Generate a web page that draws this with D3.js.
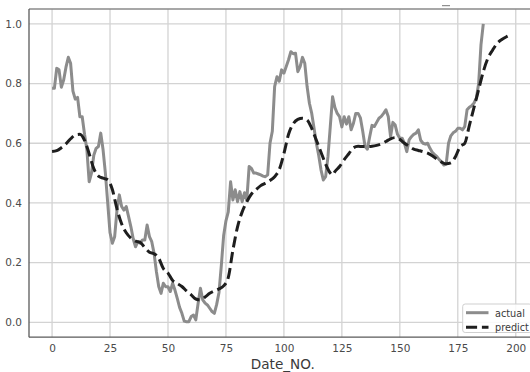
<!DOCTYPE html>
<html>
<head>
<meta charset="utf-8">
<script src="https://cdn.jsdelivr.net/npm/d3@7"></script>
<style>
  html, body { margin: 0; padding: 0; background: #fff; }
  svg { display: block; }
  text { font-family: "DejaVu Sans", sans-serif; }
</style>
</head>
<body>
<svg id="chart" width="530" height="372"></svg>
<script>
// Observed series (index -> normalised value)
const actualNo = [
  0,1,2,3,4,5,6,7,8,9,10,11,12,13,14,15,16,17,18,19,20,21,22,23,24,25,26,27,28,29,
  30,31,32,33,34,35,36,37,38,39,40,41,42,43,44,45,46,47,48,49,50,51,52,53,54,55,56,57,58,59,
  60,61,62,63,64,65,66,67,68,69,70,71,72,73,74,75,76,77,78,79,80,81,82,83,84,85,86,87,88,89,
  90,91,92,93,94,95,96,97,98,99,100,101,102,103,104,105,106,107,108,109,110,111,112,113,114,115,116,117,118,119,
  120,121,122,123,124,125,126,127,128,129,130,131,132,133,134,135,136,137,138,139,140,141,142,143,144,145,146,147,148,149,
  150,151,152,153,154,155,156,157,158,159,160,161,162,163,164,165,166,167,168,169,170,171,172,173,174,175,176,177,178,179,
  180,181,182,183,184,185,186
];
const actual = [
  0.784,0.784,0.851,0.846,0.788,0.812,0.855,0.888,0.868,0.775,0.748,0.754,0.689,0.689,0.630,0.580,0.471,0.500,0.560,0.583,
  0.589,0.634,0.578,0.500,0.400,0.300,0.265,0.287,0.376,0.427,0.388,0.376,0.388,0.354,0.320,0.280,0.253,0.270,0.265,0.276,
  0.276,0.326,0.287,0.270,0.231,0.170,0.120,0.097,0.131,0.119,0.119,0.103,0.131,0.108,0.080,0.050,0.030,0.004,0.002,0.002,
  0.019,0.024,0.008,0.064,0.114,0.075,0.064,0.058,0.047,0.036,0.030,0.060,0.100,0.190,0.290,0.340,0.370,0.471,0.410,0.444,
  0.404,0.438,0.404,0.434,0.410,0.522,0.516,0.500,0.500,0.497,0.494,0.490,0.488,0.494,0.600,0.640,0.790,0.823,0.808,0.846,
  0.835,0.857,0.880,0.907,0.900,0.902,0.840,0.857,0.888,0.868,0.790,0.734,0.700,0.650,0.600,0.560,0.511,0.477,0.488,0.555,
  0.656,0.756,0.720,0.700,0.689,0.655,0.689,0.664,0.689,0.645,0.667,0.700,0.700,0.685,0.640,0.589,0.580,0.622,0.660,0.656,
  0.670,0.684,0.690,0.700,0.712,0.690,0.622,0.670,0.661,0.630,0.617,0.617,0.600,0.572,0.611,0.622,0.630,0.634,0.645,0.610,
  0.600,0.597,0.600,0.583,0.570,0.562,0.555,0.545,0.538,0.527,0.530,0.600,0.625,0.635,0.640,0.650,0.650,0.645,0.656,0.712,
  0.721,0.726,0.735,0.751,0.800,0.930,1.000
];

// Model output
const predictNo = [
  0,2,4,6,8,10,12,14,16,18,20,22,24,26,28,30,32,34,36,38,40,42,44,46,48,50,52,54,56,58,
  60,62,64,66,68,70,72,74,76,78,80,82,84,86,88,90,92,94,96,98,100,102,104,106,108,110,112,114,116,118,
  120,121,122,124,126,128,130,132,134,136,138,140,142,144,146,148,150,152,154,156,158,160,162,164,166,168,170,172,174,176,
  178,180,182,184,186,188,190,192,194,196,198
];
const predict = [
  0.572,0.575,0.585,0.598,0.615,0.628,0.630,0.610,0.565,0.515,0.490,0.483,0.478,0.445,0.380,0.330,0.300,0.282,0.272,0.268,
  0.250,0.235,0.230,0.215,0.180,0.165,0.140,0.130,0.120,0.105,0.092,0.078,0.075,0.085,0.097,0.105,0.112,0.122,0.150,0.242,
  0.320,0.370,0.404,0.430,0.445,0.458,0.466,0.475,0.488,0.512,0.565,0.630,0.665,0.680,0.684,0.678,0.650,0.610,0.570,0.530,
  0.500,0.494,0.505,0.522,0.545,0.565,0.585,0.590,0.589,0.589,0.590,0.593,0.598,0.606,0.615,0.619,0.613,0.600,0.590,0.580,
  0.576,0.572,0.567,0.558,0.547,0.537,0.531,0.534,0.555,0.589,0.600,0.660,0.720,0.780,0.840,0.885,0.912,0.935,0.948,0.957,
  0.964
];

const xTicks = [0, 25, 50, 75, 100, 125, 150, 175, 200];
const yTicks = [0.0, 0.2, 0.4, 0.6, 0.8, 1.0];
const seriesNames = ["actual", "predict"];
const xLabel = "Date_NO.";

const svg = d3.select("#chart");
const plot = { left: 29, top: 9, right: 536.5, bottom: 337.2 };

const x = d3.scaleLinear().domain([-9.95, 208.95]).range([plot.left, plot.right]);
const y = d3.scaleLinear().domain([-0.05, 1.05]).range([plot.bottom, plot.top]);

// grid
const grid = svg.append("g").attr("stroke", "#d3d3d3").attr("stroke-width", 1.3);
grid.selectAll("line.gx").data(xTicks).join("line")
  .attr("x1", d => x(d)).attr("x2", d => x(d))
  .attr("y1", plot.top).attr("y2", plot.bottom);
grid.selectAll("line.gy").data(yTicks).join("line")
  .attr("x1", plot.left).attr("x2", plot.right)
  .attr("y1", d => y(d)).attr("y2", d => y(d));

// spines
svg.append("line").attr("x1", plot.left).attr("x2", plot.right).attr("y1", plot.top).attr("y2", plot.top)
  .attr("stroke", "#8a8a8a").attr("stroke-width", 1.3);
svg.append("line").attr("x1", plot.left).attr("x2", plot.left).attr("y1", plot.top).attr("y2", plot.bottom)
  .attr("stroke", "#5a5a5a").attr("stroke-width", 1.3);
svg.append("line").attr("x1", plot.left).attr("x2", plot.right).attr("y1", plot.bottom).attr("y2", plot.bottom)
  .attr("stroke", "#5a5a5a").attr("stroke-width", 1.3);

// axes
const xAxis = svg.append("g").attr("transform", `translate(0,${plot.bottom})`)
  .call(d3.axisBottom(x).tickValues(xTicks).tickSize(0).tickPadding(7).tickFormat(d3.format("d")));
const yAxis = svg.append("g").attr("transform", `translate(${plot.left},0)`)
  .call(d3.axisLeft(y).tickValues(yTicks).tickSize(0).tickPadding(7).tickFormat(d3.format(".1f")));
[xAxis, yAxis].forEach(a => {
  a.select(".domain").remove();
  a.selectAll("text").attr("fill", "#4a4a4a").attr("font-size", 10.5)
    .attr("font-family", "DejaVu Sans, sans-serif");
});

svg.append("text").attr("x", (plot.left + plot.right) / 2).attr("y", 369)
  .attr("text-anchor", "middle").attr("font-size", 13.6).attr("fill", "#3a3a3a").text(xLabel);

// short dash near the top edge
svg.append("line").attr("x1", 442).attr("x2", 450).attr("y1", 5.7).attr("y2", 5.7)
  .attr("stroke", "#777").attr("stroke-width", 1);

// series
const clip = svg.append("clipPath").attr("id", "clip").append("rect")
  .attr("x", plot.left).attr("y", plot.top).attr("width", plot.right - plot.left).attr("height", plot.bottom - plot.top);

const actualLine = d3.line().x((d, i) => x(actualNo[i])).y(d => y(d));
svg.append("path").datum(actual).attr("clip-path", "url(#clip)")
  .attr("d", actualLine).attr("fill", "none").attr("stroke", "#8c8c8c")
  .attr("stroke-width", 3).attr("stroke-linejoin", "round");

const predictLine = d3.line().x((d, i) => x(predictNo[i])).y(d => y(d)).curve(d3.curveMonotoneX);
svg.append("path").datum(predict).attr("clip-path", "url(#clip)")
  .attr("d", predictLine).attr("fill", "none").attr("stroke", "#1e1e1e")
  .attr("stroke-width", 3).attr("stroke-dasharray", "11.1,4.8");

// legend
const lg = svg.append("g");
lg.append("rect").attr("x", 462.7).attr("y", 304).attr("width", 69).attr("height", 28.5)
  .attr("rx", 2.5).attr("fill", "#fff").attr("fill-opacity", 0.85)
  .attr("stroke", "#cfcfcf").attr("stroke-width", 1);
const styles = [
  { stroke: "#8c8c8c", dash: null },
  { stroke: "#1e1e1e", dash: "11.1,4.8" }
];
seriesNames.forEach((name, i) => {
  const cy = 312.7 + i * 14.6;
  lg.append("line").attr("x1", 466).attr("x2", 488.5).attr("y1", cy).attr("y2", cy)
    .attr("stroke", styles[i].stroke).attr("stroke-width", 3)
    .attr("stroke-dasharray", styles[i].dash);
  lg.append("text").attr("x", 495).attr("y", cy + 3.8).attr("font-size", 9.7)
    .attr("fill", "#3a3a3a").text(name);
});
</script>
</body>
</html>
